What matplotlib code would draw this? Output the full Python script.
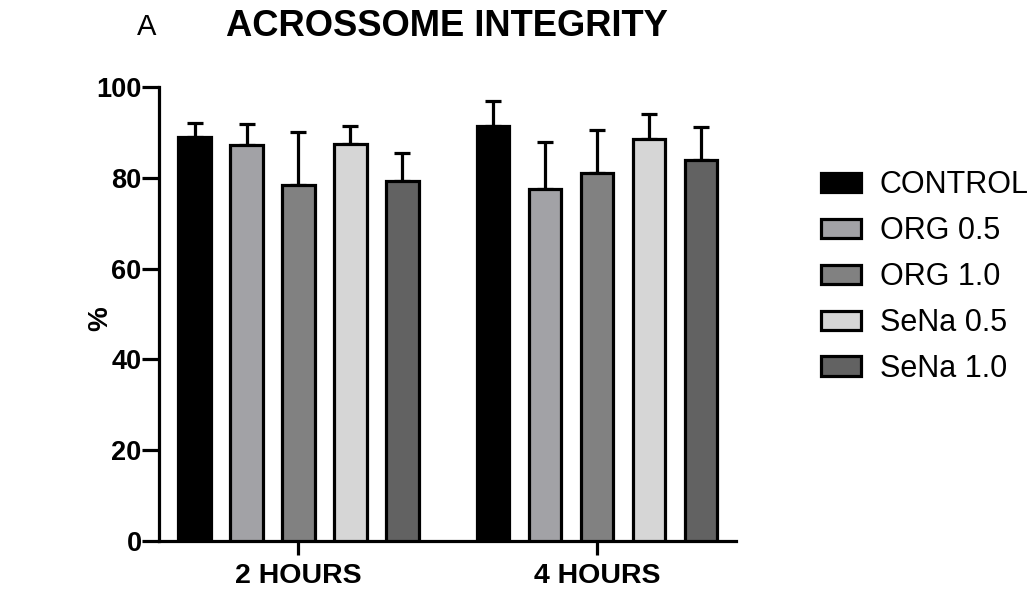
"""Acrosome integrity bar chart, two incubation times x five treatments."""

import matplotlib
matplotlib.use("Agg")
import matplotlib.pyplot as plt
import numpy as np
from matplotlib.patches import Patch

times = ["2 HOURS", "4 HOURS"]
treatments = ["CONTROL", "ORG 0.5", "ORG 1.0", "SeNa 0.5", "SeNa 1.0"]
means_2h = [89.0, 87.2, 78.4, 87.4, 79.3]
means_4h = [91.4, 77.5, 81.1, 88.5, 83.9]
sd_2h = [3.1, 4.7, 11.7, 4.0, 6.2]
sd_4h = [5.5, 10.4, 9.4, 5.6, 7.3]
fills = ["#000000", "#a2a2a6", "#818181", "#d6d6d6", "#626262"]

plt.rcParams.update({"font.family": ["Liberation Sans", "DejaVu Sans"]})

fig = plt.figure(figsize=(10.34, 5.96), dpi=100)
ax = fig.add_axes([0.1538, 0.0923, 0.5580, 0.7617])

lw = 2.3
step = 0.174
width = 0.108
centers = np.arange(len(times))
means = np.array([means_2h, means_4h]).T
sds = np.array([sd_2h, sd_4h]).T

for i, name in enumerate(treatments):
    xs = centers + (i - 2) * step
    ax.bar(xs, means[i], width=width, color=fills[i], edgecolor="black",
           linewidth=lw, zorder=3)
    ax.errorbar(xs, means[i], yerr=[np.zeros(len(times)), sds[i]], fmt="none",
                ecolor="black", elinewidth=lw, capsize=6, capthick=lw, zorder=2)

ax.set_xlim(-0.467, 1.465)
ax.set_ylim(0, 100)
ax.set_yticks([0, 20, 40, 60, 80, 100])
ax.set_xticks(centers)
ax.set_xticklabels(times, fontsize=20.5, fontweight="bold")
for lab in ax.get_yticklabels():
    lab.set_fontsize(19.5)
    lab.set_fontweight("bold")
ax.tick_params(axis="y", width=lw, length=12, pad=0.5)
ax.tick_params(axis="x", width=lw, length=10, pad=6)
for side in ("top", "right"):
    ax.spines[side].set_visible(False)
for side in ("left", "bottom"):
    ax.spines[side].set_linewidth(lw)

fig.text(0.097, 0.466, "%", rotation=90, fontsize=20, fontweight="bold",
         ha="center", va="center")
fig.text(0.432, 0.955, "ACROSSOME INTEGRITY", fontsize=26.2, fontweight="bold",
         ha="center", va="center")
fig.text(0.142, 0.955, "A", fontsize=21, ha="center", va="center")

handles = [Patch(facecolor=c, edgecolor="black", linewidth=lw) for c in fills]
fig.legend(handles, treatments, loc="center left", bbox_to_anchor=(0.794, 0.535),
           frameon=False, fontsize=22, handlelength=1.3, handleheight=0.6,
           handletextpad=0.62, labelspacing=0.52, borderpad=0, borderaxespad=0)

fig.savefig("out.png", dpi=100)
